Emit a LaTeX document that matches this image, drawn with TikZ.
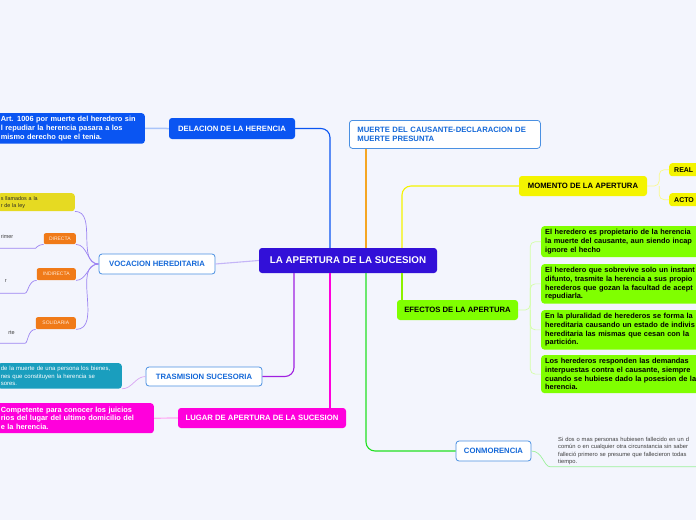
\documentclass[tikz,border=0pt]{standalone}
\usepackage{fontspec}
\setmainfont{Liberation Sans}
\usepackage{xcolor}
\usepackage{tikz}
\newcommand{\fsz}[2]{\fontsize{#1}{#2}\selectfont}
\definecolor{bgpage}{HTML}{F3F5FD}
\definecolor{rootblue}{HTML}{3210D8}
\definecolor{delblue}{HTML}{0A55F2}
\definecolor{edgeblue}{HTML}{4A90E2}
\definecolor{txtblue}{HTML}{1468D8}
\definecolor{momyellow}{HTML}{F4F400}
\definecolor{vocyellow}{HTML}{E6DA22}
\definecolor{orangebox}{HTML}{F07A18}
\definecolor{efgreen}{HTML}{80FF00}
\definecolor{tealbox}{HTML}{1A9EBE}
\definecolor{magbox}{HTML}{FF00DC}
\definecolor{lnorange}{HTML}{F5A623}
\definecolor{lngreen}{HTML}{22E022}
\definecolor{lnlime}{HTML}{8CF000}
\definecolor{lnviolet}{HTML}{A020E0}
\definecolor{lnlav}{HTML}{9C84F2}

\begin{document}
\begin{tikzpicture}[x=1pt,y=-1pt,font=\bfseries,
  topic/.style={rounded corners=3,inner sep=0pt,text=white,font=\bfseries\fsz{7.7}{9}},
  outline/.style={topic,fill=white,draw=edgeblue,line width=0.8pt,text=txtblue},
  notebox/.style={rounded corners=3,inner xsep=4pt,inner ysep=3pt,align=left,font=\bfseries\fsz{7.4}{8.8}},
  tagbox/.style={rounded corners=2,inner sep=0pt,fill=orangebox,text=orange!15,font=\fsz{5}{6}},
  faint/.style={inner sep=1pt,text=black!75,font=\fsz{5.5}{7}},
  link/.style={line width=1.1pt,rounded corners=9},
  twig/.style={line width=0.7pt,rounded corners=5}]
\useasboundingbox (0,0) rectangle (696,520);
\fill[bgpage] (0,0) rectangle (696,520);
\clip (0,0) rectangle (696,520);

% centre
\node[topic,fill=rootblue,minimum width=178,minimum height=25,font=\bfseries\fsz{9.8}{11}] (root) at (348,260.5) {LA APERTURA DE LA SUCESION};

% upper branches
\node[topic,fill=delblue,minimum width=126,minimum height=21] (dela) at (232,128.5) {DELACION DE LA HERENCIA};
\node[notebox,fill=delblue,text=white,text width=140,minimum height=30,anchor=north east] (delnote) at (145,113)
  {Art. 1006 por muerte del heredero sin\\l repudiar la herencia pasara a los\\mismo derecho que el tenia.};
\node[outline,inner xsep=8pt,align=left,text width=175,minimum height=28,anchor=north west] (muerte) at (349,120)
  {MUERTE DEL CAUSANTE-DECLARACION DE\\MUERTE PRESUNTA};
\node[topic,fill=momyellow,text=black,minimum width=128,minimum height=20] (momento) at (583,186) {MOMENTO DE LA APERTURA};
\node[topic,fill=momyellow,text=black,font=\bfseries\fsz{7}{8},inner xsep=5pt,text width=40,minimum height=13,anchor=north west] (real) at (669,163) {REAL};
\node[topic,fill=momyellow,text=black,font=\bfseries\fsz{7}{8},inner xsep=5pt,text width=40,minimum height=13,anchor=north west] (acto) at (669,193) {ACTO};

% right lower branches
\node[topic,fill=efgreen,text=black,minimum width=121,minimum height=20] (efectos) at (457.5,310) {EFECTOS DE LA APERTURA};
\node[notebox,fill=efgreen,text width=200,minimum height=31,anchor=north west] (ef1) at (541,226)
  {El heredero es propietario de la herencia\\la muerte del causante, aun siendo incap\\ignore el hecho};
\node[notebox,fill=efgreen,text width=200,minimum height=37,anchor=north west] (ef2) at (541,264)
  {El heredero que sobrevive solo un instant\\difunto, trasmite la herencia a sus propio\\herederos que gozan la facultad de acept\\repudiarla.};
\node[notebox,fill=efgreen,text width=200,minimum height=37,anchor=north west] (ef3) at (541,310)
  {En la pluralidad de herederos se forma la\\hereditaria causando un estado de indivis\\hereditaria las mismas que cesan con la\\partición.};
\node[notebox,fill=efgreen,text width=200,minimum height=37,anchor=north west] (ef4) at (541,355)
  {Los herederos responden las demandas\\interpuestas contra el causante, siempre\\cuando se hubiese dado la posesion de la\\herencia.};
\node[outline,minimum width=75,minimum height=20] (conm) at (493.5,451) {CONMORENCIA};
\node[faint,align=left,text width=170,inner ysep=2pt,font=\fsz{5.8}{7.3},anchor=north west] (conmnote) at (557,435)
  {Si dos o mas personas hubiesen fallecido en un d\\común o en cualquier otra circunstancia sin saber\\falleció primero se presume que fallecieron todas\\tiempo.};

% left branches
\node[outline,minimum width=116,minimum height=20] (voc) at (157,264) {VOCACION HEREDITARIA};
\node[notebox,fill=vocyellow,text=black!85,font=\fsz{5.4}{6.8},inner xsep=3pt,text width=71,minimum height=18,anchor=north east] (vocnote) at (75,193)
  {s llamados a la\\r de la ley};
\node[tagbox,minimum width=32,minimum height=11,anchor=north east] (dir) at (76,233) {DIRECTA};
\node[tagbox,minimum width=39,minimum height=12,anchor=north east] (indir) at (76,268) {INDIRECTA};
\node[tagbox,minimum width=40,minimum height=12,anchor=north east] (solid) at (76,317) {SOLIDARIA};
\node[faint,anchor=base east] (dtxt) at (14.5,238) {rimer};
\node[faint,anchor=base east] (itxt) at (8,282) {r};
\node[faint,anchor=base east] (stxt) at (16,334) {rte};
\node[outline,minimum width=116,minimum height=19] (tras) at (204,376.5) {TRASMISION SUCESORIA};
\node[notebox,fill=tealbox,text=white,font=\fsz{6}{7.5},inner xsep=3pt,text width=118,minimum height=25,anchor=north east] (trasnote) at (122,363)
  {de la muerte de una persona los bienes,\\nes que constituyen la herencia se\\sores.};
\node[topic,fill=magbox,minimum width=168,minimum height=20] (lugar) at (262,418) {LUGAR DE APERTURA DE LA SUCESION};
\node[notebox,fill=magbox,text=white,text width=149,minimum height=30,anchor=north east] (lugnote) at (154,403)
  {Competente para conocer los juicios\\rios del lugar del ultimo domicilio del\\e la herencia.};

% connectors
\draw[link,delblue] ([xshift=-18]root.north) |- (dela.east);
\draw[twig,delblue!35,line width=1.5pt] (dela.west) -- (delnote.east);
\draw[link,lnorange] ([xshift=18]root.north) -- ([xshift=18]root.north |- muerte.south);
\draw[link,momyellow] ([xshift=54]root.north) |- (momento.west);
\draw[twig,momyellow!45!white] (momento.east) -- ++(12,0) coordinate (mfork) |- (real.west);
\draw[twig,momyellow!45!white] (mfork) |- (acto.west);
\draw[link,lnlime] ([xshift=54]root.south) -- ([xshift=54]root.south |- efectos.north);
\draw[twig,efgreen!35!white] (efectos.east) -- ++(12,0) coordinate (efork) |- (ef1.west);
\foreach \k in {ef2,ef3,ef4} \draw[twig,efgreen!35!white] (efork) |- (\k.west);
\draw[link,lngreen] ([xshift=18]root.south) |- (conm.west);
\draw[twig,lngreen!45!white] (conm.east) to[out=0,in=180] ([xshift=-2]conmnote.south west) -- (conmnote.south east);
\draw[link,magbox] ([xshift=-18]root.south) -- ([xshift=-18]root.south |- lugar.north);
\draw[twig,magbox!35!white,line width=1.2pt] (lugar.west) -- (lugnote.east);
\draw[link,lnviolet] ([xshift=-54]root.south) |- (tras.east);
\draw[twig,lnviolet!40!white] (tras.west) to[out=180,in=0] (trasnote.south east);
\draw[link,lnlav!60!white] (root.west) -- (voc.east);
\foreach \k in {vocnote,dir,indir,solid} \draw[twig,lnlav] (voc.west) to[out=180,in=0] (\k.south east);
\draw[twig,lnlav] (dir.south west) to[out=180,in=0] ([xshift=16,yshift=-9]dtxt.south east) -- ([xshift=-30,yshift=-9]dtxt.south west);
\draw[twig,lnlav] (indir.south west) to[out=180,in=0] ([xshift=12,yshift=-10]itxt.south east) -- ([xshift=-30,yshift=-10]itxt.south west);
\draw[twig,lnlav] (solid.south west) to[out=180,in=0] ([xshift=4,yshift=-8]stxt.south east) -- ([xshift=-30,yshift=-8]stxt.south west);
\end{tikzpicture}
\end{document}
